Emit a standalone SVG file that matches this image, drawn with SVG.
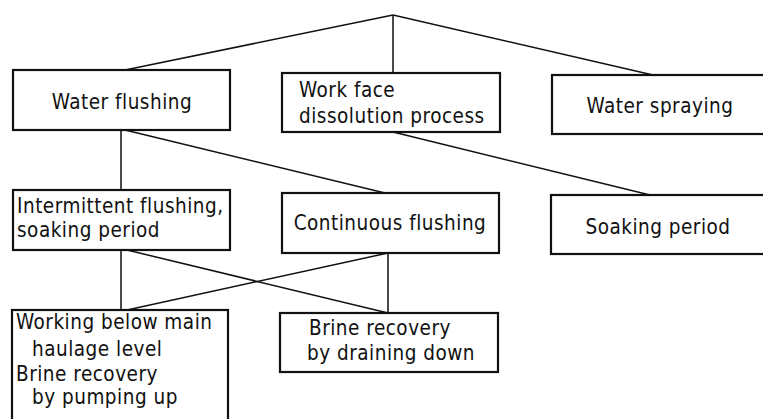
<svg xmlns="http://www.w3.org/2000/svg" width="763" height="419" viewBox="0 0 763 419">
<style>
.box{fill:#fff;stroke:#111;stroke-width:2.2}
.c{fill:none;stroke:#111;stroke-width:1.5}
text{font-family:"DejaVu Sans Condensed","DejaVu Sans",sans-serif;font-size:20.5px;fill:#111;letter-spacing:0.5px}
.m{text-anchor:middle}
</style>
<rect width="763" height="419" fill="#fff"/>
<g id="connectors">
<path class="c" d="M393 15 L125 70 M393 15 L393 73 M393 15 L653 75"/>
<path class="c" d="M121 130 L121 190 M125 130 L385 193 M393 132 L650 195"/>
<path class="c" d="M121 250 L121 310 M127 250 L388 313 M388 253 L388 313 M388 253 L127 310"/>
</g>
<g id="water-flushing"><rect class="box" x="13" y="70" width="217" height="60"/><text class="m" x="122" y="109">Water flushing</text></g>
<g id="work-face"><rect class="box" x="282" y="73" width="218" height="59"/><text x="299" y="97">Work face</text><text x="299" y="123">dissolution process</text></g>
<g id="water-spraying"><rect class="box" x="552" y="75" width="220" height="59"/><text class="m" x="660" y="113">Water spraying</text></g>
<g id="intermittent"><rect class="box" x="13" y="190" width="217" height="60"/><text x="17" y="213">Intermittent flushing,</text><text x="17" y="237">soaking period</text></g>
<g id="continuous"><rect class="box" x="282" y="193" width="217" height="60"/><text class="m" x="390" y="230">Continuous flushing</text></g>
<g id="soaking"><rect class="box" x="551" y="195" width="220" height="59"/><text class="m" x="658" y="234">Soaking period</text></g>
<g id="working-below"><rect class="box" x="12" y="310" width="216" height="115"/><text x="16" y="329">Working below main</text><text x="32" y="356">haulage level</text><text x="16" y="381">Brine recovery</text><text x="32" y="404">by pumping up</text></g>
<g id="brine-draining"><rect class="box" x="280" y="313" width="218" height="59"/><text x="309" y="335">Brine recovery</text><text x="307" y="360">by draining down</text></g>
</svg>
